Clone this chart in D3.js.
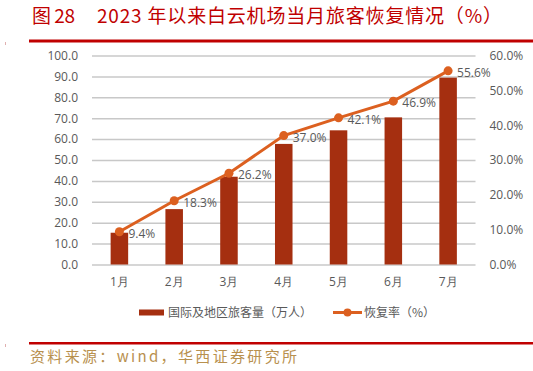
<!DOCTYPE html>
<html><head><meta charset="utf-8">
<script src="https://cdn.jsdelivr.net/npm/d3@7/dist/d3.min.js"></script>
<style>body{margin:0;background:#fff}svg{display:block}</style>
</head><body><svg id="c" width="533" height="371"></svg>
<script>
const categories = ["1月","2月","3月","4月","5月","6月","7月"];
const passengers = [15.2, 26.5, 42.0, 57.7, 64.2, 70.4, 89.4];
const recovery = [9.4, 18.3, 26.2, 37.0, 42.1, 46.9, 55.6];
const leftTicks = [0,10,20,30,40,50,60,70,80,90,100];
const rightTicks = [0,10,20,30,40,50,60];

const svg = d3.select("#c");
const L = 92, R = 475.5, T = 55.5, B = 264.5;
const x = d3.scaleBand().domain(categories).range([L, R]).paddingInner(0.68).paddingOuter(0.34);
const y = d3.scaleLinear().domain([0,100]).range([B, T]);
const y2 = d3.scaleLinear().domain([0,60]).range([B, T]);
const axisFont = "'Open Sans', sans-serif";

// title
svg.append("text").attr("x", 32).attr("y", 23).attr("fill", "#c00000")
  .attr("font-family", "'Noto Sans CJK SC', sans-serif").attr("font-size", 19)
  .attr("textLength", 43).attr("lengthAdjust", "spacing")
  .text("图 28");
svg.append("text").attr("x", 97).attr("y", 23).attr("fill", "#c00000")
  .attr("font-family", "'Noto Sans CJK SC', sans-serif").attr("font-size", 19)
  .attr("textLength", 405).attr("lengthAdjust", "spacing")
  .text("2023 年以来白云机场当月旅客恢复情况（%）");
svg.append("rect").attr("x", 29).attr("y", 39.5).attr("width", 504).attr("height", 3).attr("fill", "#c00000");
svg.append("rect").attr("x", 5).attr("y", 42).attr("width", 1).attr("height", 3).attr("fill", "#e0b0b0");

// gridlines via axis
const gl = svg.append("g").attr("transform", `translate(${L},0)`)
  .call(d3.axisLeft(y).tickValues(leftTicks).tickSize(-(R - L)).tickFormat(""));
gl.select(".domain").remove();
gl.selectAll(".tick line").attr("stroke", "#c8c8c8").attr("stroke-width", 1.5);

// left axis labels
const la = svg.append("g").attr("transform", `translate(${L},0)`)
  .call(d3.axisLeft(y).tickValues(leftTicks).tickSize(0).tickPadding(14).tickFormat(d3.format(".1f")));
la.select(".domain").remove();
la.selectAll("text").attr("fill", "#595959").attr("font-size", 12).attr("font-family", axisFont);

// right axis labels
const ra = svg.append("g").attr("transform", `translate(${R},0)`)
  .call(d3.axisRight(y2).tickValues(rightTicks).tickSize(0).tickPadding(14).tickFormat(d => d.toFixed(1) + "%"));
ra.select(".domain").remove();
ra.selectAll("text").attr("fill", "#595959").attr("font-size", 12).attr("font-family", axisFont);

// x axis labels
const xa = svg.append("g").attr("transform", `translate(0,${B})`)
  .call(d3.axisBottom(x).tickSize(0).tickPadding(13));
xa.select(".domain").remove();
xa.selectAll("text").attr("fill", "#595959").attr("font-size", 12).attr("font-family", axisFont);

// bars
svg.append("g").selectAll("rect").data(passengers).join("rect")
  .attr("x", (d,i) => x(categories[i])).attr("width", x.bandwidth())
  .attr("y", d => y(d)).attr("height", d => B - y(d)).attr("fill", "#a52f10");

// line
const cx = (i) => x(categories[i]) + x.bandwidth()/2;
svg.append("path").datum(recovery)
  .attr("d", d3.line().x((d,i) => cx(i)).y(d => y2(d)))
  .attr("fill", "none").attr("stroke", "#dc6020").attr("stroke-width", 3);
svg.append("g").selectAll("circle").data(recovery).join("circle")
  .attr("cx", (d,i) => cx(i)).attr("cy", d => y2(d)).attr("r", 4.5).attr("fill", "#dc6020");
svg.append("g").selectAll("text").data(recovery).join("text")
  .attr("x", (d,i) => cx(i) + 9).attr("y", d => y2(d) + 6)
  .attr("fill", "#595959").attr("font-size", 12).attr("font-family", axisFont)
  .text(d => d.toFixed(1) + "%");

// legend
const lg = svg.append("g").attr("font-family", "'Noto Sans CJK SC', sans-serif").attr("font-size", 12).attr("fill", "#595959");
lg.append("rect").attr("x", 139).attr("y", 309.5).attr("width", 25).attr("height", 6).attr("fill", "#a52f10");
lg.append("text").attr("x", 168).attr("y", 317).text("国际及地区旅客量（万人）");
lg.append("line").attr("x1", 333).attr("x2", 362).attr("y1", 312.5).attr("y2", 312.5).attr("stroke", "#dc6020").attr("stroke-width", 3);
lg.append("circle").attr("cx", 347.5).attr("cy", 312.5).attr("r", 4).attr("fill", "#dc6020");
lg.append("text").attr("x", 364).attr("y", 317).text("恢复率（%）");

// footer
svg.append("rect").attr("x", 29).attr("y", 342).attr("width", 504).attr("height", 2.5).attr("fill", "#c00000");
svg.append("rect").attr("x", 5).attr("y", 344).attr("width", 1).attr("height", 3).attr("fill", "#e0b0b0");
svg.append("text").attr("x", 30).attr("y", 362).attr("fill", "#b8904e")
  .attr("font-family", "'Noto Sans CJK SC', monospace").attr("font-size", 15)
  .attr("textLength", 267).attr("lengthAdjust", "spacing")
  .text("资料来源：wind，华西证券研究所");
</script></body></html>
